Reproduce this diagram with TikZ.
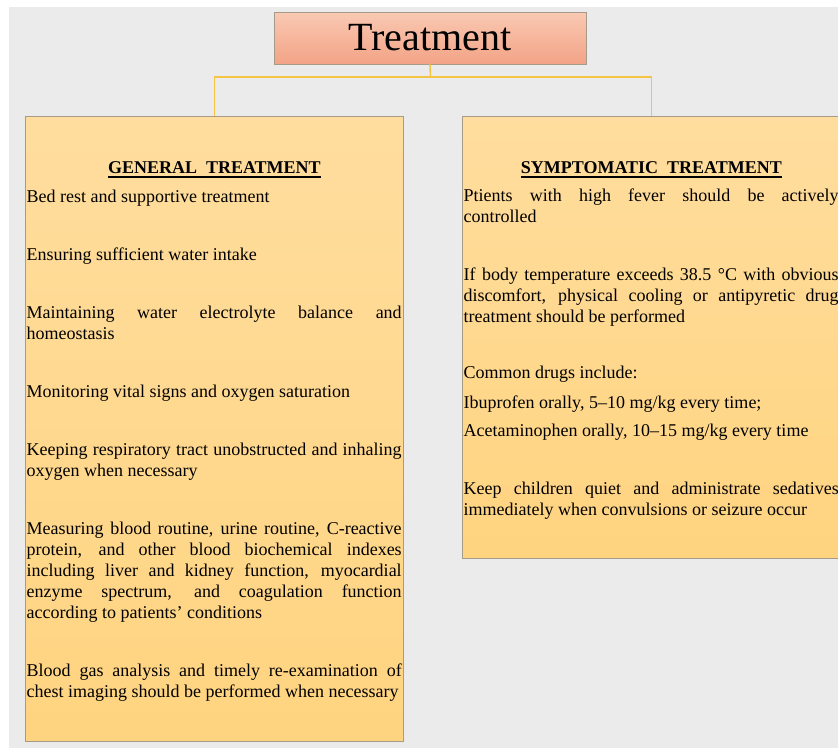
\documentclass[tikz,border=0pt]{standalone}
\usepackage{fontspec}
\setmainfont{Liberation Serif}
\usetikzlibrary{positioning}
\definecolor{pagegray}{HTML}{EBEBEB}
\definecolor{boxtop}{HTML}{FFDD9E}
\definecolor{boxbot}{HTML}{FFD480}
\definecolor{boxline}{HTML}{A59B88}
\definecolor{titletop}{HTML}{F9C9B3}
\definecolor{titlebot}{HTML}{F3A386}
\definecolor{linkgold}{HTML}{F4C443}

\begin{document}
\begin{tikzpicture}[x=1pt,y=-1pt,
    panel/.style={draw=boxline,top color=boxtop,bottom color=boxbot,line width=0.8pt,
      inner sep=0pt,minimum width=378pt,anchor=north west},
    heading/.style={font=\fontsize{18}{21}\selectfont\bfseries,inner sep=0pt,anchor=base},
    para/.style={font=\fontsize{18}{21}\selectfont,text width=375pt,align=justify,inner sep=0pt,
      execute at begin node={\hyphenpenalty=10000\strut},execute at end node={\strut}},
    link/.style={draw=linkgold,line width=1.6pt},
    rule/.style={line width=1.6pt}]
  \useasboundingbox (0,0) rectangle (838,753);
  \fill[pagegray] (9,7) rectangle (838,748);

  % title and the two panels
  \node[draw=boxline,top color=titletop,bottom color=titlebot,line width=0.8pt,
    minimum width=312pt,minimum height=52pt,font=\fontsize{40}{44}\selectfont] (title) at (430,38) {Treatment};
  \node[panel,minimum height=625pt] (gen) at (25,116) {};
  \node[panel,minimum height=442pt] (sym) at (462,116) {};

  \coordinate (fork) at (430.5,77);
  \draw[link] (title.south) -- (fork);
  \draw[link] (fork) -| (gen.north);
  \draw[link] (fork) -| (sym.north);

  % general treatment
  \node[heading,below=57pt of gen.north,anchor=base] (genhead) {GENERAL\ \ TREATMENT};
  \draw[rule] ([yshift=-4pt]genhead.base west) -- ([yshift=-4pt]genhead.base east);
  \node[para,below right=72pt and 1.5pt of gen.north west] (g1) {Bed rest and supportive treatment};
  \node[para,below=36.5pt of g1] (g2) {Ensuring sufficient water intake};
  \node[para,below=36.5pt of g2] (g3) {Maintaining water electrolyte balance and homeostasis};
  \node[para,below=36.5pt of g3] (g4) {Monitoring vital signs and oxygen saturation};
  \node[para,below=36.5pt of g4] (g5) {Keeping respiratory tract unobstructed and inhaling oxygen when necessary};
  \node[para,below=36.5pt of g5] (g6) {Measuring blood routine, urine routine, C-reactive protein, and other blood biochemical indexes including liver and kidney function, myocardial enzyme spectrum, and coagulation function according to patients’ conditions};
  \node[para,below=36.5pt of g6] (g7) {Blood gas analysis and timely re-examination of chest imaging should be performed when necessary};

  % symptomatic treatment
  \node[heading,below=57pt of sym.north,anchor=base] (symhead) {SYMPTOMATIC\ \ TREATMENT};
  \draw[rule] ([yshift=-4pt]symhead.base west) -- ([yshift=-4pt]symhead.base east);
  \node[para,below right=71pt and 1.5pt of sym.north west] (s1) {Ptients with high fever should be actively\linebreak controlled};
  \node[para,below=36pt of s1] (s2) {If body temperature exceeds 38.5 °C with obvious discomfort, physical cooling or antipyretic drug treatment should be performed};
  \node[para,below=35pt of s2] (s3) {Common drugs include:};
  \node[para,below=8pt of s3] (s4) {Ibuprofen orally, 5--10 mg/kg every time;};
  \node[para,below=7pt of s4] (s5) {Acetaminophen orally, 10--15 mg/kg every time};
  \node[para,below=37pt of s5] (s6) {Keep children quiet and administrate sedatives immediately when convulsions or seizure occur};
\end{tikzpicture}
\end{document}
